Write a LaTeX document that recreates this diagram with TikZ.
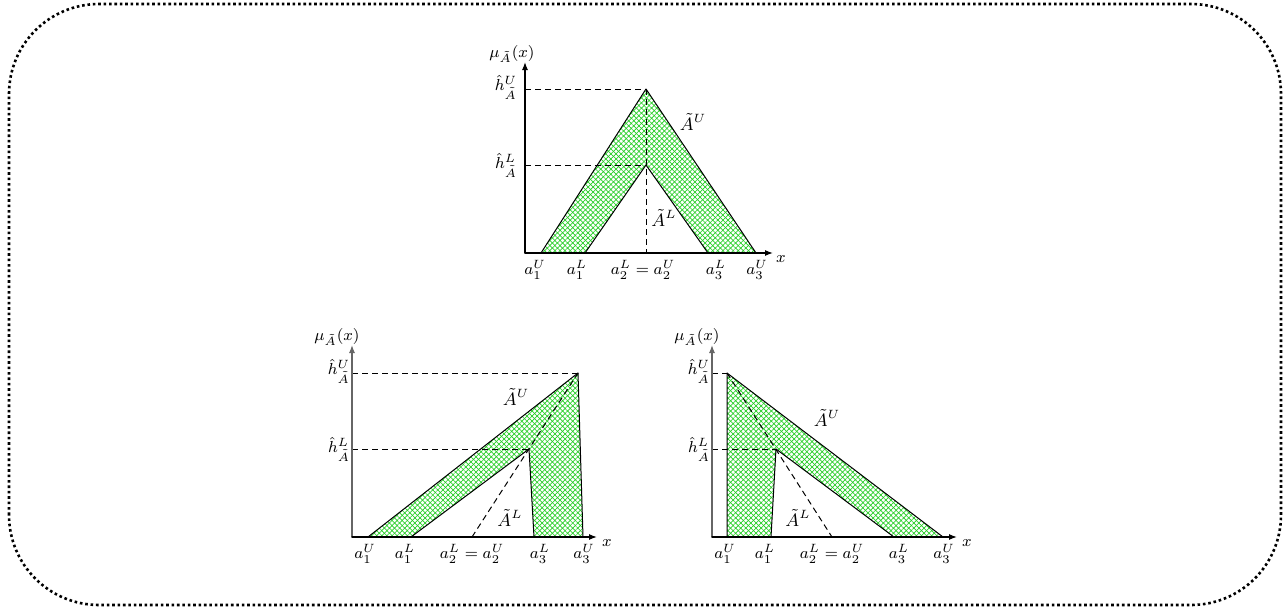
\documentclass[tikz,border=0pt]{standalone}
\usetikzlibrary{arrows.meta,patterns.meta}
\definecolor{hatchgreen}{RGB}{40,205,40}
\tikzset{
  frame/.style={line width=1.3pt, line cap=butt, dash pattern=on 1.3pt off 1.4pt, rounded corners=45pt},
  axis/.style={line width=.6pt, -{Latex[length=4pt,width=3pt]}},
  edge/.style={line width=.5pt},
  guide/.style={line width=.5pt, line cap=butt, dash pattern=on 3pt off 2pt},
  band/.style={even odd rule, pattern={Lines[angle=45,distance=1.8pt,line width=.35pt]}, pattern color=hatchgreen,
    postaction={even odd rule, pattern={Lines[angle=-45,distance=1.8pt,line width=.35pt]}, pattern color=hatchgreen}},
  setname/.style={font=\small}
}
\begin{document}
\begin{tikzpicture}[x=.5pt, y=.5pt, every node/.style={font=\footnotesize, inner sep=1pt}, line cap=round, line join=round]
  \useasboundingbox (0,0) rectangle (1287,607);
  \draw[frame] (9,2) rectangle (1281,603);

  % top: symmetric triangles
  \coordinate (TO)   at (525,354);
  \coordinate (TY)   at (525,545);
  \coordinate (TX)   at (773,354);
  \coordinate (Ta1U) at (541,354);
  \coordinate (Ta1L) at (585,354);
  \coordinate (Ta2)  at (646,354);
  \coordinate (Ta3L) at (708,354);
  \coordinate (Ta3U) at (756,354);
  \coordinate (TpU)  at (646,518);
  \coordinate (TpL)  at (646,442);

  \fill[band] (Ta1U)--(TpU)--(Ta3U)--cycle (Ta1L)--(TpL)--(Ta3L)--cycle;
  \draw[guide] (TO |- TpU)--(TpU);
  \draw[guide] (TO |- TpL)--(TpL);
  \draw[guide] (TpU)--(Ta2);
  \draw[edge] (Ta1U)--(TpU)--(Ta3U);
  \draw[edge] (Ta1L)--(TpL)--(Ta3L);
  \draw[axis] (TO)--(TY);
  \draw[axis] (TO)--(TX);

  \node (Tmu) at (512,553) {$\mu_{\tilde{A}}(x)$};
  \node (Tx)  at (781,348) {$x$};
  \node (ThU) at (506,520) {$\hat{h}^{U}_{\tilde{A}}$};
  \node (ThL) at (506,442) {$\hat{h}^{L}_{\tilde{A}}$};
  \node[setname] (TAU) at (693,485) {$\tilde{A}^{U}$};
  \node[setname] (TAL) at (664,389) {$\tilde{A}^{L}$};
  \node (Tla1U) at (535,337) {$a_1^U$};
  \node (Tla1L) at (577,337) {$a_1^L$};
  \node (Tla2)  at (643,337) {$a_2^L=a_2^U$};
  \node (Tla3L) at (716,337) {$a_3^L$};
  \node (Tla3U) at (757,337) {$a_3^U$};

  % bottom left: peaks to the right
  \coordinate (LO)   at (352,70);
  \coordinate (LY)   at (352,262);
  \coordinate (LX)   at (597,70);
  \coordinate (La1U) at (368,70);
  \coordinate (La1L) at (411,70);
  \coordinate (La2)  at (472,70);
  \coordinate (La3L) at (534,70);
  \coordinate (La3U) at (583,70);
  \coordinate (LpU)  at (578,234);
  \coordinate (LpL)  at (529,158);

  \fill[band] (La1U)--(LpU)--(La3U)--cycle (La1L)--(LpL)--(La3L)--cycle;
  \draw[guide] (LO |- LpU)--(LpU);
  \draw[guide] (LO |- LpL)--(LpL);
  \draw[guide] (La2)--(LpU);
  \draw[edge] (La1U)--(LpU)--(La3U);
  \draw[edge] (La1L)--(LpL)--(La3L);
  \draw[axis, black!60] (LO)--(LY);
  \draw[axis] (LO)--(LX);

  \node (Lmu) at (337,270) {$\mu_{\tilde{A}}(x)$};
  \node (Lx)  at (607,64) {$x$};
  \node (LhU) at (339,236) {$\hat{h}^{U}_{\tilde{A}}$};
  \node (LhL) at (339,158) {$\hat{h}^{L}_{\tilde{A}}$};
  \node[setname] (LAU) at (516,210) {$\tilde{A}^{U}$};
  \node[setname] (LAL) at (510,89) {$\tilde{A}^{L}$};
  \node (Lla1U) at (365,53) {$a_1^U$};
  \node (Lla1L) at (405,53) {$a_1^L$};
  \node (Lla2)  at (472,53) {$a_2^L=a_2^U$};
  \node (Lla3L) at (540,53) {$a_3^L$};
  \node (Lla3U) at (584,53) {$a_3^U$};

  % bottom right: peaks to the left
  \coordinate (RO)   at (712,70);
  \coordinate (RY)   at (712,262);
  \coordinate (RX)   at (957,70);
  \coordinate (Ra1U) at (727,70);
  \coordinate (Ra1L) at (771,70);
  \coordinate (Ra2)  at (832,70);
  \coordinate (Ra3L) at (894,70);
  \coordinate (Ra3U) at (943,70);
  \coordinate (RpU)  at (727,234);
  \coordinate (RpL)  at (776,158);

  \fill[band] (Ra1U)--(RpU)--(Ra3U)--cycle (Ra1L)--(RpL)--(Ra3L)--cycle;
  \draw[guide] (RO |- RpU)--(RpU);
  \draw[guide] (RO |- RpL)--(RpL);
  \draw[guide] (RpU)--(Ra2);
  \draw[edge] (Ra1U)--(RpU)--(Ra3U);
  \draw[edge] (Ra1L)--(RpL)--(Ra3L);
  \draw[axis, black!60] (RO)--(RY);
  \draw[axis] (RO)--(RX);

  \node (Rmu) at (697,270) {$\mu_{\tilde{A}}(x)$};
  \node (Rx)  at (967,64) {$x$};
  \node (RhU) at (699,236) {$\hat{h}^{U}_{\tilde{A}}$};
  \node (RhL) at (699,158) {$\hat{h}^{L}_{\tilde{A}}$};
  \node[setname] (RAU) at (827,189) {$\tilde{A}^{U}$};
  \node[setname] (RAL) at (798,89) {$\tilde{A}^{L}$};
  \node (Rla1U) at (725,53) {$a_1^U$};
  \node (Rla1L) at (765,53) {$a_1^L$};
  \node (Rla2)  at (832,53) {$a_2^L=a_2^U$};
  \node (Rla3L) at (899,53) {$a_3^L$};
  \node (Rla3U) at (944,53) {$a_3^U$};
\end{tikzpicture}
\end{document}
